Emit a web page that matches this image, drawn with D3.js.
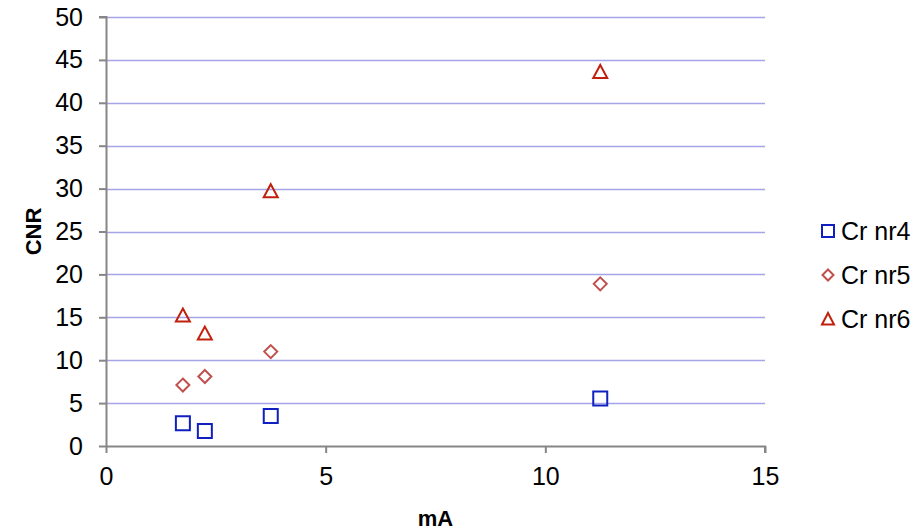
<!DOCTYPE html>
<html>
<head>
<meta charset="utf-8">
<script src="https://cdn.jsdelivr.net/npm/d3@7"></script>
<style>
  html, body { margin: 0; padding: 0; background: #fff; }
  svg { display: block; font-family: "Liberation Sans", Arial, sans-serif; }
</style>
</head>
<body>
<svg id="chart" width="921" height="530"></svg>
<script>
// Tube current (mA) for each measurement
const mA = [1.75, 2.25, 3.75, 11.25];

// CNR per chromium insert
const crNr4 = [2.65, 1.75, 3.5, 5.55];
const crNr5 = [7.1, 8.1, 11.0, 18.9];
const crNr6 = [15.2, 13.1, 29.7, 43.6];

const seriesNames = ["Cr nr4", "Cr nr5", "Cr nr6"];
const xTicks = [0, 5, 10, 15];
const yTicks = [0, 5, 10, 15, 20, 25, 30, 35, 40, 45, 50];

const series = [
  { name: seriesNames[0], values: crNr4, shape: "square",   color: "#1020c0" },
  { name: seriesNames[1], values: crNr5, shape: "diamond",  color: "#c0504d" },
  { name: seriesNames[2], values: crNr6, shape: "triangle", color: "#c0200c" }
];

const svg = d3.select("#chart");
const plot = { left: 106, right: 765, top: 17, bottom: 446 };

const x = d3.scaleLinear().domain([0, 15]).range([plot.left, plot.right]);
const y = d3.scaleLinear().domain([0, 50]).range([plot.bottom, plot.top]);

// Horizontal gridlines
svg.append("g")
  .selectAll("line")
  .data(yTicks.filter(d => d > 0))
  .join("line")
  .attr("x1", plot.left).attr("x2", plot.right)
  .attr("y1", d => Math.round(y(d)) + 0.5).attr("y2", d => Math.round(y(d)) + 0.5)
  .attr("stroke", "#a4a4e8").attr("stroke-width", 1.5);

// Axes
const axisColor = "#868686";
const xAxis = svg.append("g")
  .attr("transform", `translate(0,${plot.bottom})`)
  .call(d3.axisBottom(x).tickValues(xTicks).tickSize(7).tickPadding(14).tickFormat(d3.format("d")));
const yAxis = svg.append("g")
  .attr("transform", `translate(${plot.left},0)`)
  .call(d3.axisLeft(y).tickValues(yTicks).tickSize(7).tickPadding(16).tickFormat(d3.format("d")));

[xAxis, yAxis].forEach(g => {
  g.select(".domain").attr("stroke", axisColor).attr("stroke-width", 2);
  g.selectAll(".tick line").attr("stroke", axisColor).attr("stroke-width", 2);
  g.selectAll(".tick text")
    .attr("fill", "#000")
    .style("font-size", "25px")
    .style("font-family", "'Liberation Sans', Arial, sans-serif");
});
// Axis lines only span the plot area
xAxis.select(".domain").attr("d", `M${plot.left},0.5H${plot.right}V7`);
yAxis.select(".domain").attr("d", `M-7,${plot.top}H0.5V${plot.bottom}`);

// Marker path generators
function markerPath(shape) {
  if (shape === "square") return "M-7,-7H7V7H-7Z";
  if (shape === "diamond") return "M0,-6.5L6.5,0L0,6.5L-6.5,0Z";
  return "M0,-7L7,6L-7,6Z";
}

// Data points
series.forEach(s => {
  svg.append("g")
    .selectAll("path")
    .data(s.values.map((v, i) => ({ x: mA[i], y: v })))
    .join("path")
    .attr("transform", d => `translate(${x(d.x)},${y(d.y)})`)
    .attr("d", markerPath(s.shape))
    .attr("fill", "none")
    .attr("stroke", s.color)
    .attr("stroke-width", 2);
});

// Axis titles
svg.append("text")
  .attr("x", (plot.left + plot.right) / 2).attr("y", 526)
  .attr("text-anchor", "middle")
  .style("font-size", "22px").style("font-weight", "bold")
  .text("mA");

svg.append("text")
  .attr("transform", `translate(41,${(plot.top + plot.bottom) / 2}) rotate(-90)`)
  .attr("text-anchor", "middle")
  .style("font-size", "22px").style("font-weight", "bold")
  .text("CNR");

// Legend
const legend = svg.append("g").attr("transform", "translate(828,231)");
series.forEach((s, i) => {
  const row = legend.append("g").attr("transform", `translate(0,${i * 44})`);
  row.append("path")
    .attr("d", s.shape === "square" ? "M-6,-6H6V6H-6Z" : s.shape === "diamond" ? "M0,-5.5L5.5,0L0,5.5L-5.5,0Z" : "M0,-6L6,5.5L-6,5.5Z")
    .attr("fill", "none").attr("stroke", s.color).attr("stroke-width", 2);
  row.append("text")
    .attr("x", 13).attr("y", 0).attr("dy", "0.35em")
    .style("font-size", "25px")
    .text(s.name);
});
</script>
</body>
</html>
